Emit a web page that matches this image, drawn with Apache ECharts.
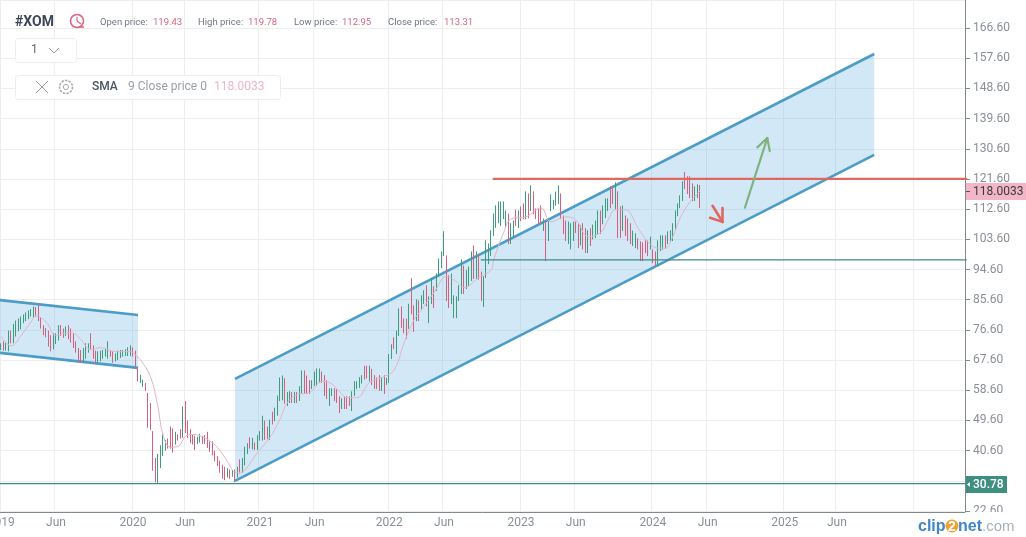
<!DOCTYPE html>
<html><head><meta charset="utf-8">
<style>html,body{margin:0;padding:0;background:#fff}#c{width:1026px;height:537px}</style>
<script src="https://cdn.jsdelivr.net/npm/echarts@6/dist/echarts.min.js"></script>
</head><body><div id="c"></div>
<script>
// Weekly candles: [open, close, low, high]
const weeks2019 = [
[71,72,70.6,72.6],[72.8,70.8,70.4,73.2],[70.8,72.4,70.4,72.8],[70.6,76,70.2,76.4],[76,73,72.6,76.4],
[73,78,72.6,78.4],[75,79,74.6,79.4],[76.6,79.6,76.2,80],[77.2,80.2,76.8,80.6],[79,80.8,78.6,81.2],
[79.6,81.4,79.2,81.8],[80.2,82,79.8,82.4],[81,82.4,80.6,82.8],[80.6,83.2,80.2,83.6],[83,81,80.6,83.4],
[83.8,79.6,79.2,84.2],[79.8,77.4,77,80.2],[77.6,75.4,75,78],[76.8,74.8,74.4,77.2],[76,72,71.6,76.4],
[74.6,70.6,70.2,75],[71.2,75.2,70.8,75.6],[72.8,75.2,72.4,75.6],[73.8,77.6,73.4,78],[77.6,75.2,74.8,78],
[76.6,74.6,74.2,77],[75.2,77.2,74.8,77.6],[77.6,74.2,73.8,78],[76.6,73.2,72.8,77],[75.2,71.6,71.2,75.6],
[72.8,70.2,69.8,73.2],[70.8,67.2,66.8,71.2],[70.2,67.2,66.8,70.6],[67.4,70.8,67,71.2],[68.4,72.2,68,72.6],
[70.2,72.2,69.8,72.6],[75.2,71.2,70.8,75.6],[71.6,68.4,68,72],[70,66.8,66.4,70.4],[67.2,69.8,66.8,70.2],
[67.6,70,67.2,70.4],[68.4,70.2,68,70.6],[69,70.6,68.6,71],[68.4,71,68,73.2],[70.2,69,68.6,70.6],
[69.8,67.2,66.8,70.2],[67.6,69.2,67.2,69.6],[68,70,67.6,70.4],[68.6,70.2,68.2,70.6],[69,70.2,68.6,70.6],
[69.2,70.4,68.8,70.8],[69.2,71,68.8,71.4],[69.2,71.6,68.8,72]];
const weeks2020 = [
[71,69,68.6,71.4],[70,66,65.6,70.4],[64.7,61.7,61.2,65.4],[61.2,62.6,60.8,63.2],[60,61.4,59.6,61.8],
[60.3,58.8,58.4,60.8],[57.3,47.8,47.4,57.8],[54.3,47.2,46.8,54.8],[46,35,34.6,46.4],[38,31.6,31.2,38.4],
[32,39.2,30.78,39.6],[35.8,41.8,35.4,42.2],[39.4,45.2,39,45.6],[41,43.4,40.6,43.8],[43.8,41.6,41.2,44.2],
[47.4,41.6,41.2,47.8],[46.8,40.4,40,47.2],[42.8,45.8,42.4,46.2],[45,44,43.6,45.4],[46.6,44.6,44.2,47],
[44.8,53.4,44.4,53.8],[55,46.2,45.8,55.4],[49.2,44.8,44.4,49.6],[46.6,43.2,42.8,47],[45,42.8,42.4,45.4],
[44.6,41.2,40.8,45],[43,44.4,42.6,44.8],[43.4,45.2,43,45.6],[44.6,43,42.6,45],[44.8,43,42.6,45.2],
[45.8,41.8,41.4,46.2],[43,40.6,40.2,43.4],[43,39.6,39.2,43.4],[40.2,37.8,37.4,40.6],[38.6,36.4,36,39],
[37.2,34.4,34,37.6],[36,32.6,32.2,36.4],[35.4,32.2,31.8,35.8],[33,35,32.6,35.4],[34.6,32.6,32.2,35],
[33.2,34.4,32.8,34.8],[34.6,31.6,31.2,35],[33,35.4,32.6,35.8],[37.6,34.2,33.8,38],[34.4,38,34,38.4],
[36.6,41.4,36.2,41.8],[40,42.4,39.6,42.8],[44.2,41.6,41.2,44.6],[41.4,44,41,44.4],[42.6,41.2,40.8,43],
[41.2,44.8,40.8,45.2],[44,46,43.6,46.4]];
const weeks2021 = [
[44,50.6,43.6,51],[49.2,44.2,43.8,49.6],[47.4,44.4,44,47.8],[44.2,49.4,43.8,49.8],[51.8,48.8,48.4,52.2],
[49.8,53,49.4,53.4],[51.4,56.6,51,57],[55.8,62,55.4,62.4],[56,62.6,55.6,63],[61.8,55,54.6,62.2],
[54.3,57.7,53.9,58.1],[55.2,57.9,54.8,58.3],[57.7,55.2,54.8,58.1],[55.2,57.7,54.8,58.1],[57.7,55.2,54.8,58.1],
[55.8,59.4,55.4,59.8],[57.9,64.1,57.5,64.5],[64.1,57.9,57.5,64.5],[62.6,57.9,57.5,63],[61.2,57.9,57.5,61.6],
[59.4,61.2,59,61.6],[60.3,63.8,59.9,64.2],[60.3,64.7,59.9,65.1],[61.2,64.7,60.8,65.1],[63.8,61.2,60.8,64.2],
[62.7,57.3,56.9,63.1],[61.2,56.4,56,61.6],[54.3,58.8,53.9,59.2],[57.3,58.8,56.9,59.2],[58.8,55.8,55.4,59.2],
[58.5,55.2,54.8,58.9],[56.4,52.2,51.8,56.8],[53.4,55.8,53,56.2],[56.4,53.4,53,56.8],[56.4,53.4,53,56.8],
[56.4,54.3,53.9,56.8],[52.8,57.9,52.4,58.3],[57.3,60.9,56.9,61.3],[59.4,60.9,59,61.3],[59.7,62.1,59.3,62.5],
[61,62.7,60.6,63.1],[65.5,62.2,61.8,65.9],[65.5,62.5,62.1,65.9],[61.6,65.5,61.2,65.9],[64.6,60.6,60.2,65],
[62.7,59.4,59,63.1],[62,59.4,59,62.4],[62.7,58.8,58.4,63.1],[58.8,62,58.4,62.4],[62.7,57.9,57.5,63.1],
[60.6,61.9,60.2,62.3],[61.2,69,60.8,69.4]];
const weeks2022 = [
[68.3,71.9,67.9,72.3],[74,71.3,70.9,74.4],[69.8,76,69.4,76.4],[75.2,82.6,74.8,83],[83.2,77.6,77.2,83.6],
[79.6,76,75.6,80],[79.6,74.3,73.9,80],[77.3,84,76.9,84.4],[91.6,81.7,81.3,92],[83.5,76.4,76,83.9],
[79.6,85.3,79.2,85.7],[85,79.6,79.2,85.4],[83.2,86.5,82.8,86.9],[84.7,88,84.3,88.4],[89.5,84,83.6,89.9],
[79,86.2,78.6,86.6],[84.7,91.6,84.3,92],[89.2,83.5,83.1,89.6],[88.6,93,88.2,93.4],[93,97.5,92.6,97.9],
[95.4,99.6,95,100],[99,105.6,98.6,106],[98.4,85.6,85.2,98.8],[92.5,83.5,83.1,92.9],[84.7,93,84.3,93.4],
[80.5,86.5,80.1,86.9],[80.5,86.2,80.1,86.6],[85.6,89.5,85.2,89.9],[87.7,97.2,87.3,97.6],[95.4,87.7,87.3,95.8],
[89.2,94,88.8,94.4],[90,95.1,89.6,95.5],[91.6,99.6,91.2,100],[101.4,92.2,91.8,101.8],[92.2,99.6,91.8,100],
[98.7,92,91.6,99.1],[93.6,85.6,85.2,94],[83.8,92.2,83.4,92.6],[92.5,102.9,92.1,103.3],[96.6,102,96.2,102.4],
[99,105.9,98.6,106.3],[105,110.9,104.6,111.3],[107.4,113.3,107,113.7],[108.8,114.5,108.4,114.9],[108,114.5,107.6,114.9],
[110,114.5,109.6,114.9],[107.4,111.8,107,112.2],[110.9,102.6,102.2,111.3],[102.6,108,102.2,108.4],[104.4,108.8,104,109.2],
[112,108,107.6,112.4],[107.4,111.8,107,112.2]];
const weeks2023 = [
[113,109.4,109,113.4],[113.9,110,109.6,114.3],[110,117.5,109.6,117.9],[116.9,110.3,109.9,117.3],[112.4,119.3,112,119.7],
[117.5,111.5,111.1,117.9],[112.4,110,109.6,112.8],[112.4,108.5,108.1,112.8],[113.3,108.8,108.4,113.7],[106.5,109.4,106.1,109.8],
[108.8,97.5,97.1,109.2],[103.5,109.4,103.1,109.8],[112.4,116.6,112,117],[113,115,112.6,115.4],[114,117.4,113.6,117.8],
[114.5,119.3,114.1,119.7],[116.9,110,109.6,117.3],[110.3,105.6,105.2,110.7],[108.8,103.5,103.1,109.2],[102.6,108.5,102.2,108.9],
[101,108,100.6,108.4],[103.5,108.5,103.1,108.9],[108.5,105.9,105.5,108.9],[108,101.4,101,108.4],[102.2,107.4,101.8,107.8],
[108,101,100.6,108.4],[106.5,99.9,99.5,106.9],[99.9,105.9,99.5,106.3],[106.5,102,101.6,106.9],[104,107.6,103.6,108],
[104.4,108.8,104,109.2],[105.6,111.8,105.2,112.2],[111.8,105.6,105.2,112.2],[108.5,113.3,108.1,113.7],[110.3,115.4,109.9,115.8],
[112.4,115.4,112,115.8],[119,113.3,112.9,119.4],[119,114.5,114.1,119.4],[113,120.2,112.6,120.6],[117.5,104.4,104,117.9],
[113,104.4,104,113.4],[106.5,113.3,106.1,113.7],[110.3,105,104.6,110.7],[109.4,103.5,103.1,109.8],[108,102.6,102.2,108.4],
[102,105.8,101.6,106.2],[101.4,105,101,105.4],[103.5,101,100.6,103.9],[102.6,97.5,97.1,103],[102.3,97.5,97.1,102.7],
[102.9,99.9,99.5,103.3],[102.9,99,98.6,103.3]];
const weeks2024 = [
[101,104,100.6,104.4],[100.2,96.9,96.5,100.6],[99.6,96,95.4,100],[96,102.9,95.6,103.3],[100.5,104.4,100.1,104.8],
[100.9,104.4,100.5,104.8],[104.4,101.2,100.8,104.8],[102.6,105.6,102.2,106],[103.5,105.9,103.1,106.3],[103.5,108,103.1,108.4],
[107,111.8,106.6,112.2],[110.9,113.9,110.5,114.3],[113.3,116.3,112.9,116.7],[115.4,120.5,115,120.9],[123.4,119,118.6,123.7],
[122,117.5,117.1,122.4],[122,116.3,115.9,122.4],[119.9,115.4,115,120.3],[115.4,119,115,119.4],[116.3,119.6,115.9,120],
[119.43,113.31,112.95,119.78]];

// 9-period SMA line: [week index, value]
const smaPoints = [[0,74.6],[4,71.8],[8,75],[12,79],[14,80.8],[18,79],[22,75],[28,75.8],[32,73.7],[36,70.7],[40,71.3],[46,70.1],[52,70.1],[55,68.3],[56,67.7],[60,62.6],[63,53.7],[65,45.4],[68,41.6],[71,41.8],[74,44.8],[77,45.4],[80,45],[83,43.9],[87,41.5],[91,37.3],[94,34.2],[96,34.1],[98,34.8],[103,40],[108,44.5],[112,49.8],[115,54.9],[119,57.3],[124,57.9],[129,61.2],[132,60.9],[136,58.2],[139,56.4],[143,56.4],[148,60.9],[153,62.4],[158,64.7],[162,72.8],[166,79.6],[169,82.6],[174,87.7],[179,92.5],[183,91],[186,89.2],[192,92.2],[197,94.5],[198,97.5],[202,105.6],[205,109.7],[211,110.3],[217,113],[221,108.8],[227,110.3],[231,109.4],[236,104.4],[241,105.6],[244,109.4],[247,112.4],[251,112.4],[256,107],[260,102.9],[264,101],[267,101],[270,104.4],[273,110],[277,114.8],[281,118.0033]];

// Channels: [left week, upper, lower, right week, upper, lower]
const channels = [[-1,85.5,69.8,55,81.06,65.27],[94,62,31.6,351,158.86,128.75]];
// Horizontal levels and arrows: [week, price, week, price]
const redLevel = [[198,121.6,388,121.6]];
const greenLevels = [[-1,30.78,388,30.78],[193,97.45,388,97.45]];
const greenArrow = [[299,113,308,133.8],[304,131,308,133.8],[309,129.9,308,133.8]];
const redArrow = [[286,113.6,290,108.8],[290,112.9,290,108.8],[285,110,290,108.8]];

const tickLabels = {0:'2019',22:'Jun',53:'2020',74:'Jun',104:'2021',126:'Jun',156:'2022',178:'Jun',209:'2023',231:'Jun',262:'2024',284:'Jun',315:'2025',336:'Jun',367:''};
const weekCount = 388;
const priceMin = 22.6, priceMax = 174.95, priceStep = 9;
const hiddenPriceLabel = 31.6;
const headerPrices = {open:'119.43',high:'119.78',low:'112.95',close:'113.31'};

const candles = [...weeks2019,...weeks2020,...weeks2021,...weeks2022,...weeks2023,...weeks2024];
const categories = [];
const day0 = Date.UTC(2018,11,31);
for (let i=0;i<weekCount;i++) categories.push(new Date(day0+i*7*864e5).toISOString().slice(0,10));

const segSeries = (data,color,width,z)=>({
  type:'custom',data,z,silent:true,clip:false,
  encode:{x:[0,2],y:[1,3]},
  renderItem(p,api){
    const a=api.coord([api.value(0),api.value(1)]),b=api.coord([api.value(2),api.value(3)]);
    return {type:'line',shape:{x1:a[0],y1:a[1],x2:b[0],y2:b[1]},style:{stroke:color,lineWidth:width,lineCap:'round',fill:null}};
  }
});
const ui='Roboto, sans-serif';
const T=(x,y,text,fs,fill,extra)=>({type:'text',z:50,x,y,style:Object.assign({text,font:`${fs}px ${ui}`,fill,textVerticalAlign:'middle'},extra||{})});
const L=(x1,y1,x2,y2,stroke,w)=>({type:'line',z:50,shape:{x1,y1,x2,y2},style:{stroke,lineWidth:w||1}});

const graphic=[
 {type:'rect',z:40,shape:{x:966,y:512,width:60,height:25},style:{fill:'#fff'}},
 T(15,22,'#XOM',14,'#3d4759',{font:`700 14px ${ui}`}),
 {type:'circle',z:50,shape:{cx:77,cy:21,r:6.5},style:{fill:null,stroke:'#d9647c',lineWidth:1.5}},
 L(77,17,77,21,'#d9647c',1.2),L(77,21,81,24,'#d9647c',1.2),L(79,27,84,27,'#d9647c',1.5),
 T(100,22.5,'Open price: ',9.5,'#6f7785'),T(153,22.5,headerPrices.open,9.5,'#d4687f'),
 T(198,22.5,'High price: ',9.5,'#6f7785'),T(248,22.5,headerPrices.high,9.5,'#d4687f'),
 T(294,22.5,'Low price: ',9.5,'#6f7785'),T(342,22.5,headerPrices.low,9.5,'#d4687f'),
 T(388,22.5,'Close price: ',9.5,'#6f7785'),T(444,22.5,headerPrices.close,9.5,'#d4687f'),
 {type:'rect',z:45,shape:{x:15.5,y:38.5,width:61,height:24,r:3},style:{fill:'#fff',stroke:'#eceef0'}},
 T(31,50,'1',12,'#666'),
 {type:'polyline',z:50,shape:{points:[[49,48],[54,53],[59,48]]},style:{fill:null,stroke:'#999',lineWidth:1}},
 {type:'rect',z:45,shape:{x:15.5,y:75.5,width:265,height:24,r:3},style:{fill:'#fff',stroke:'#eceef0'}},
 L(36,81,48,93,'#999',1),L(48,81,36,93,'#999',1),
 {type:'circle',z:50,shape:{cx:66,cy:87,r:6.5},style:{fill:null,stroke:'#aaa',lineWidth:1.6,lineDash:[2.4,1.2]}},
 {type:'circle',z:50,shape:{cx:66,cy:87,r:2.6},style:{fill:null,stroke:'#aaa',lineWidth:1}},
 T(92,87,'SMA',12,'#4b5563',{font:`500 12px ${ui}`}),
 T(128,87,'9 Close price 0',12,'#9aa0a8'),
 T(214,87,'118.0033',12,'#ecb6c8'),
 {type:'rect',z:45,shape:{x:966,y:183,width:60,height:17},style:{fill:'#f2b6c8'}},
 L(966,191.5,970,191.5,'#555',1),
 T(973,191.5,'118.0033',12,'#3a3a3a'),
 {type:'rect',z:45,shape:{x:966,y:476,width:41,height:17},style:{fill:'#3f8f80'}},
 {type:'polygon',z:50,shape:{points:[[967,484.5],[970,482],[970,487]]},style:{fill:'#fff'}},
 T(973,484.5,'30.78',12,'#fff',{font:`500 12px ${ui}`}),
 T(918,527,'clip',16,'#3f86c6',{font:'700 16px "Liberation Sans"'}),
 {type:'circle',z:49,shape:{cx:952,cy:526,r:6.5},style:{fill:'#f0a030'}},
 T(948,527,'2',14,'#fff',{font:'700 14px "Liberation Sans"'}),
 T(958,527,'net',16,'#3f86c6',{font:'700 16px "Liberation Sans"'}),
 T(982,527,'.com',15,'#a9b0ba',{font:'400 15px "Liberation Sans"'})
];

const chart=echarts.init(document.getElementById('c'),null,{renderer:'canvas'});
chart.setOption({
 animation:false,backgroundColor:'#fff',
 grid:{left:0,right:61,top:0,bottom:26,containLabel:false,outerBoundsMode:'none'},
 xAxis:{type:'category',data:categories,min:0,max:weekCount-1,boundaryGap:true,offset:1,
  axisLine:{lineStyle:{color:'#7f8b8b'}},
  axisTick:{show:false},
  axisLabel:{color:'#8a8f96',fontFamily:'Roboto',fontSize:12,margin:5,hideOverlap:false,
    interval:(i)=>tickLabels[i]!==undefined,
    formatter:(v,i)=>tickLabels[i]||''},
  splitLine:{show:true,interval:(i)=>tickLabels[i]!==undefined,lineStyle:{color:'#eeeeee'}}},
 yAxis:{type:'value',position:'right',min:priceMin,max:priceMax,interval:priceStep,
  axisLine:{show:true,lineStyle:{color:'#7f8b8b'}},
  axisTick:{show:true,length:5,lineStyle:{color:'#7f8b8b'}},
  axisLabel:{color:'#8a8f96',fontFamily:'Roboto',fontSize:12,margin:8,showMaxLabel:false,
    formatter:v=>Math.abs(v-hiddenPriceLabel)<0.01?'':v.toFixed(2)},
  splitLine:{show:true,lineStyle:{color:'#eeeeee'}}},
 graphic,
 series:[
  {type:'custom',data:channels,z:1,silent:true,clip:false,encode:{x:[0,3],y:[1,2,4,5]},
   renderItem(p,api){
    const a=api.coord([api.value(0),api.value(1)]),b=api.coord([api.value(3),api.value(4)]),
          c=api.coord([api.value(3),api.value(5)]),d=api.coord([api.value(0),api.value(2)]);
    const line=(m,n)=>({type:'line',shape:{x1:m[0],y1:m[1],x2:n[0],y2:n[1]},style:{stroke:'#4b9cc6',lineWidth:2.6,fill:null}});
    return {type:'group',children:[
      {type:'polygon',shape:{points:[a,b,c,d]},style:{fill:'rgba(120,185,230,0.33)'}},
      line(a,b),line(d,c)]};
   }},
  {type:'candlestick',data:candles,z:3,barWidth:1,silent:true,
   itemStyle:{color:'#3f9c7c',color0:'#d4607e',borderColor:'#3f9c7c',borderColor0:'#d4607e',borderWidth:1}},
  {type:'line',data:smaPoints,z:4,smooth:0.4,showSymbol:false,silent:true,lineStyle:{color:'#e2b4c8',width:1}},
  segSeries(greenLevels,'#3f8a82',1.2,5),
  segSeries(redLevel,'#e0675f',2.2,5),
  segSeries(greenArrow,'#7fb27c',2.2,6),
  segSeries(redArrow,'#e0675f',2.6,6)
 ]
});
</script></body></html>
